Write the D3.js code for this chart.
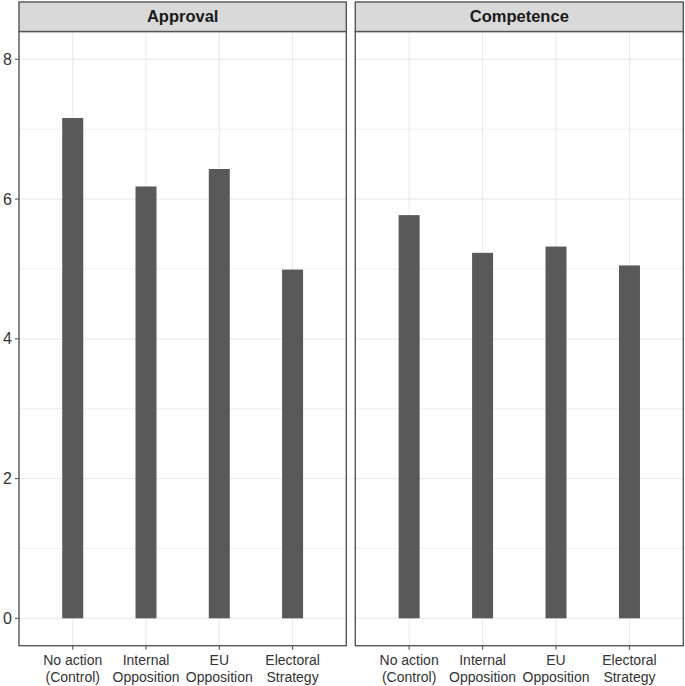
<!DOCTYPE html>
<html>
<head>
<meta charset="utf-8">
<script src="https://cdn.jsdelivr.net/npm/d3@7"></script>
<style>
html,body{margin:0;padding:0;background:#fff;}
svg{display:block;}
</style>
</head>
<body>
<svg id="chart" width="685" height="686"></svg>
<script>
const categories = ["No action\n(Control)", "Internal\nOpposition", "EU\nOpposition", "Electoral\nStrategy"];
const panels = ["Approval", "Competence"];
const approvalValues = [7.16, 6.18, 6.43, 4.99];
const competenceValues = [5.77, 5.23, 5.32, 5.05];
const yTicks = [0, 2, 4, 6, 8];
const yMinor = [1, 3, 5, 7];

const seriesByPanel = {Approval: approvalValues, Competence: competenceValues};

const svg = d3.select("#chart");
const font = "'Liberation Sans', Arial, sans-serif";

const panelBoxes = [
  {x0: 19, x1: 346.3},
  {x0: 355.3, x1: 683.3}
];
const stripTop = 2, stripBottom = 31.5, panelBottom = 645.7;

const y = d3.scaleLinear().domain([0, 8]).range([618.3, 59.3]);

panels.forEach((name, i) => {
  const b = panelBoxes[i];
  const x = d3.scalePoint().domain(categories).range([b.x0, b.x1]).padding(0.733);
  const g = svg.append("g");

  g.append("rect").attr("x", b.x0).attr("y", stripBottom).attr("width", b.x1 - b.x0)
    .attr("height", panelBottom - stripBottom).attr("fill", "#fff");

  g.selectAll(".ymin").data(yMinor).enter().append("line")
    .attr("x1", b.x0).attr("x2", b.x1).attr("y1", d => y(d)).attr("y2", d => y(d))
    .attr("stroke", "#ebebeb").attr("stroke-width", 0.8);
  g.selectAll(".ymaj").data(yTicks).enter().append("line")
    .attr("x1", b.x0).attr("x2", b.x1).attr("y1", d => y(d)).attr("y2", d => y(d))
    .attr("stroke", "#ebebeb").attr("stroke-width", 1.2);
  g.selectAll(".xmaj").data(categories).enter().append("line")
    .attr("x1", d => x(d)).attr("x2", d => x(d)).attr("y1", stripBottom).attr("y2", panelBottom)
    .attr("stroke", "#ebebeb").attr("stroke-width", 1.2);

  const bw = 21;
  const vals = seriesByPanel[name];
  g.selectAll(".bar").data(categories).enter().append("rect")
    .attr("x", d => x(d) - bw / 2)
    .attr("width", bw)
    .attr("y", (d, j) => y(vals[j]))
    .attr("height", (d, j) => y(0) - y(vals[j]))
    .attr("fill", "#595959");

  g.append("rect").attr("x", b.x0).attr("y", stripBottom).attr("width", b.x1 - b.x0)
    .attr("height", panelBottom - stripBottom).attr("fill", "none")
    .attr("stroke", "#555").attr("stroke-width", 1.4);

  g.append("rect").attr("x", b.x0).attr("y", stripTop).attr("width", b.x1 - b.x0)
    .attr("height", stripBottom - stripTop).attr("fill", "#d9d9d9")
    .attr("stroke", "#555").attr("stroke-width", 1.4);
  g.append("text").attr("x", (b.x0 + b.x1) / 2).attr("y", (stripTop + stripBottom) / 2 + 1)
    .attr("text-anchor", "middle").attr("dominant-baseline", "middle")
    .attr("font-family", font).attr("font-size", 16.5).attr("font-weight", "bold")
    .attr("fill", "#1a1a1a").text(name);

  const xa = g.append("g");
  xa.selectAll("line").data(categories).enter().append("line")
    .attr("x1", d => x(d)).attr("x2", d => x(d)).attr("y1", panelBottom).attr("y2", panelBottom + 4)
    .attr("stroke", "#555").attr("stroke-width", 1.1);
  const labels = xa.selectAll("text").data(categories).enter().append("text")
    .attr("x", d => x(d)).attr("text-anchor", "middle")
    .attr("font-family", font).attr("font-size", 14).attr("fill", "#333");
  labels.each(function(d) {
    const lines = d.split("\n");
    d3.select(this).selectAll("tspan").data(lines).enter().append("tspan")
      .attr("x", x(d)).attr("y", (l, k) => 665 + k * 16.5).text(l => l);
  });

  if (i === 0) {
    const ya = g.append("g");
    ya.selectAll("line").data(yTicks).enter().append("line")
      .attr("x1", b.x0 - 4).attr("x2", b.x0).attr("y1", d => y(d)).attr("y2", d => y(d))
      .attr("stroke", "#555").attr("stroke-width", 1.1);
    ya.selectAll("text").data(yTicks).enter().append("text")
      .attr("x", b.x0 - 7).attr("y", d => y(d)).attr("text-anchor", "end")
      .attr("dominant-baseline", "central")
      .attr("font-family", font).attr("font-size", 16).attr("fill", "#333").text(d => d);
  }
});
</script>
</body>
</html>
